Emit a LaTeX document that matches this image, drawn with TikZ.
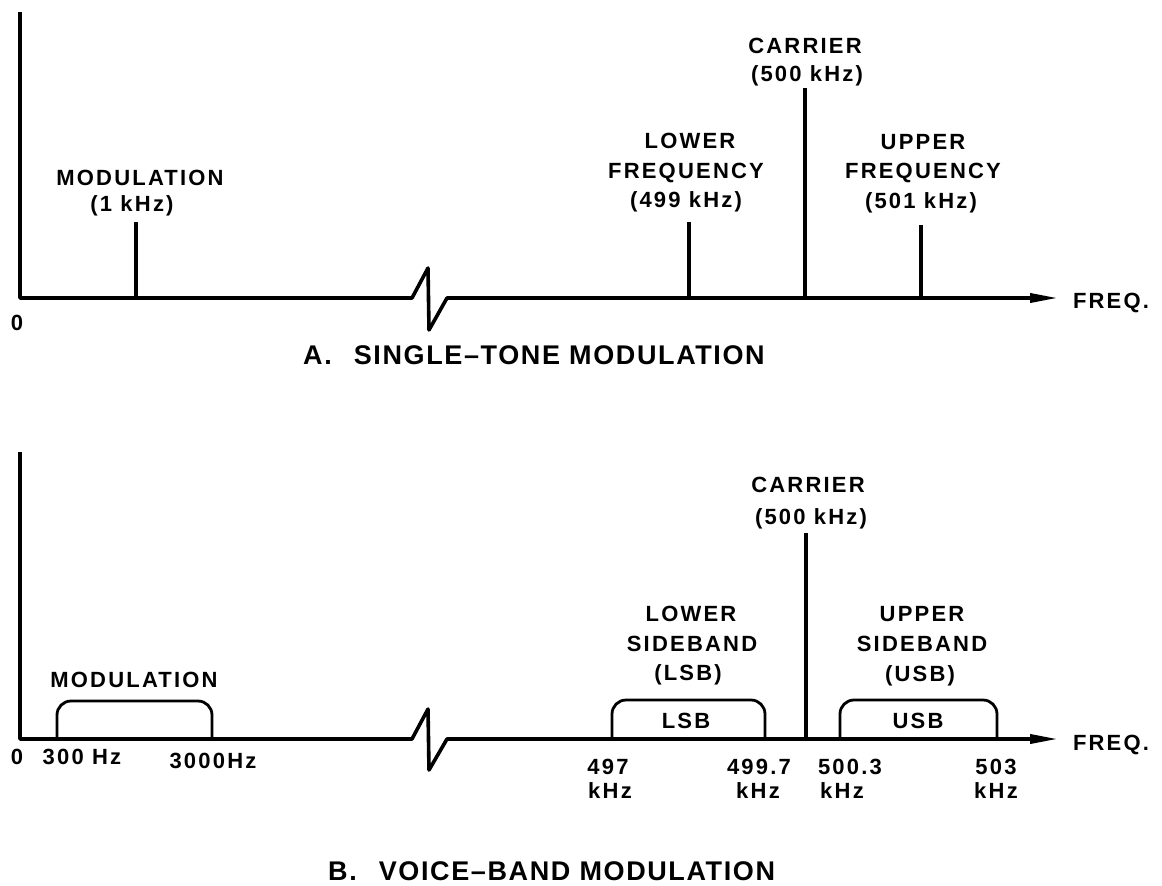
\documentclass[tikz,border=0pt]{standalone}
\usepackage{fontspec}
\setmainfont{Liberation Sans}
\newfontfamily\lblfont{Liberation Sans}[LetterSpace=10]
\newfontfamily\ttlfont{Liberation Sans}[LetterSpace=6]
\usetikzlibrary{arrows.meta}
\tikzset{
  lbl/.style={font=\fontsize{22}{26}\lblfont\bfseries\selectfont, inner sep=0pt, text height=16pt, text depth=0pt},
  ttl/.style={font=\fontsize{27}{32}\ttlfont\bfseries\selectfont, inner sep=0pt, text height=19pt, text depth=0pt, anchor=west},
  axisline/.style={line width=3.6pt, line join=round, -{Triangle[length=28pt,width=9pt]}},
  stem/.style={line width=3.5pt},
  band/.style={line width=2.8pt, rounded corners=14pt},
}
\begin{document}
\begin{tikzpicture}[x=1pt,y=-1pt]
\useasboundingbox (0,0) rectangle (1162,886);

% ---------------- Part A ----------------
\coordinate (aTop) at (20,12);
\coordinate (aO) at (20,298);
\coordinate (aB1) at (412,298);
\coordinate (aB2) at (428,268);
\coordinate (aB3) at (429,330);
\coordinate (aB4) at (447,298);
\coordinate (aEnd) at (1058,298);
\draw[axisline] (aTop) -- (aO) -- (aB1) -- (aB2) -- (aB3) -- (aB4) -- (aEnd);

\coordinate (aModB) at (136,298); \coordinate (aModT) at (136,222);
\coordinate (aLowB) at (689,298); \coordinate (aLowT) at (689,222);
\coordinate (aCarB) at (805,298); \coordinate (aCarT) at (805,88);
\coordinate (aUpB) at (921,298);  \coordinate (aUpT) at (921,225);
\draw[stem] (aModB) -- (aModT);
\draw[stem] (aLowB) -- (aLowT);
\draw[stem] (aCarB) -- (aCarT);
\draw[stem] (aUpB) -- (aUpT);

\node[lbl] (aZero) at (17,322) {0};
\node[lbl] (aFreq) at (1111,300) {FREQ.};
\node[lbl] (aMod1) at (140,177) {MODULATION};
\node[lbl] (aMod2) at (132,203) {(1 kHz)};
\node[lbl] (aCar1) at (805,45) {CARRIER};
\node[lbl] (aCar2) at (807,73) {(500 kHz)};
\node[lbl] (aLow1) at (690,140) {LOWER};
\node[lbl] (aLow2) at (686,170) {FREQUENCY};
\node[lbl] (aLow3) at (686,199) {(499 kHz)};
\node[lbl] (aUp1) at (923,141) {UPPER};
\node[lbl] (aUp2) at (923,170) {FREQUENCY};
\node[lbl] (aUp3) at (921,200) {(501 kHz)};
\node[ttl] (aTitle) at (303,355) {A.\hspace{22pt}SINGLE\textendash TONE MODULATION};

% ---------------- Part B ----------------
\coordinate (bTop) at (20,452);
\coordinate (bO) at (20,739);
\coordinate (bB1) at (412,739);
\coordinate (bB2) at (428,709);
\coordinate (bB3) at (429,770);
\coordinate (bB4) at (447,739);
\coordinate (bEnd) at (1058,739);
\draw[axisline] (bTop) -- (bO) -- (bB1) -- (bB2) -- (bB3) -- (bB4) -- (bEnd);

\coordinate (bCarB) at (806,739); \coordinate (bCarT) at (806,533);
\draw[stem] (bCarB) -- (bCarT);

\coordinate (mA) at (57,739);  \coordinate (mB) at (57,701);  \coordinate (mC) at (212,701); \coordinate (mD) at (212,739);
\coordinate (lA) at (612,739); \coordinate (lB) at (612,700); \coordinate (lC) at (765,700); \coordinate (lD) at (765,739);
\coordinate (uA) at (840,739); \coordinate (uB) at (840,700); \coordinate (uC) at (997,700); \coordinate (uD) at (997,739);
\draw[band] (mA) -- (mB) -- (mC) -- (mD);
\draw[band] (lA) -- (lB) -- (lC) -- (lD);
\draw[band] (uA) -- (uB) -- (uC) -- (uD);

\node[lbl] (bLSBin) at (686,720) {LSB};
\node[lbl] (bUSBin) at (918,720) {USB};

\node[lbl] (bFreq) at (1111,742) {FREQ.};
\node[lbl] (bMod) at (134,679) {MODULATION};
\node[lbl] (bCar1) at (808,484) {CARRIER};
\node[lbl] (bCar2) at (811,516) {(500 kHz)};
\node[lbl] (bLow1) at (691,613) {LOWER};
\node[lbl] (bLow2) at (692,643) {SIDEBAND};
\node[lbl] (bLow3) at (688,672) {(LSB)};
\node[lbl] (bUp1) at (922,613) {UPPER};
\node[lbl] (bUp2) at (922,643) {SIDEBAND};
\node[lbl] (bUp3) at (920,673) {(USB)};

\node[lbl] (bZero) at (17,756) {0};
\node[lbl] (b300) at (82,756) {300 Hz};
\node[lbl] (b3000) at (213,760) {3000Hz};
\node[lbl] (b497) at (608,766) {497};
\node[lbl] (b497k) at (610,790) {kHz};
\node[lbl] (b4997) at (759,766) {499.7};
\node[lbl] (b4997k) at (758,790) {kHz};
\node[lbl] (b5003) at (850,766) {500.3};
\node[lbl] (b5003k) at (842,790) {kHz};
\node[lbl] (b503) at (996,766) {503};
\node[lbl] (b503k) at (996,790) {kHz};

\node[ttl] (bTitle) at (328,871) {B.\hspace{22pt}VOICE\textendash BAND MODULATION};
\end{tikzpicture}
\end{document}
